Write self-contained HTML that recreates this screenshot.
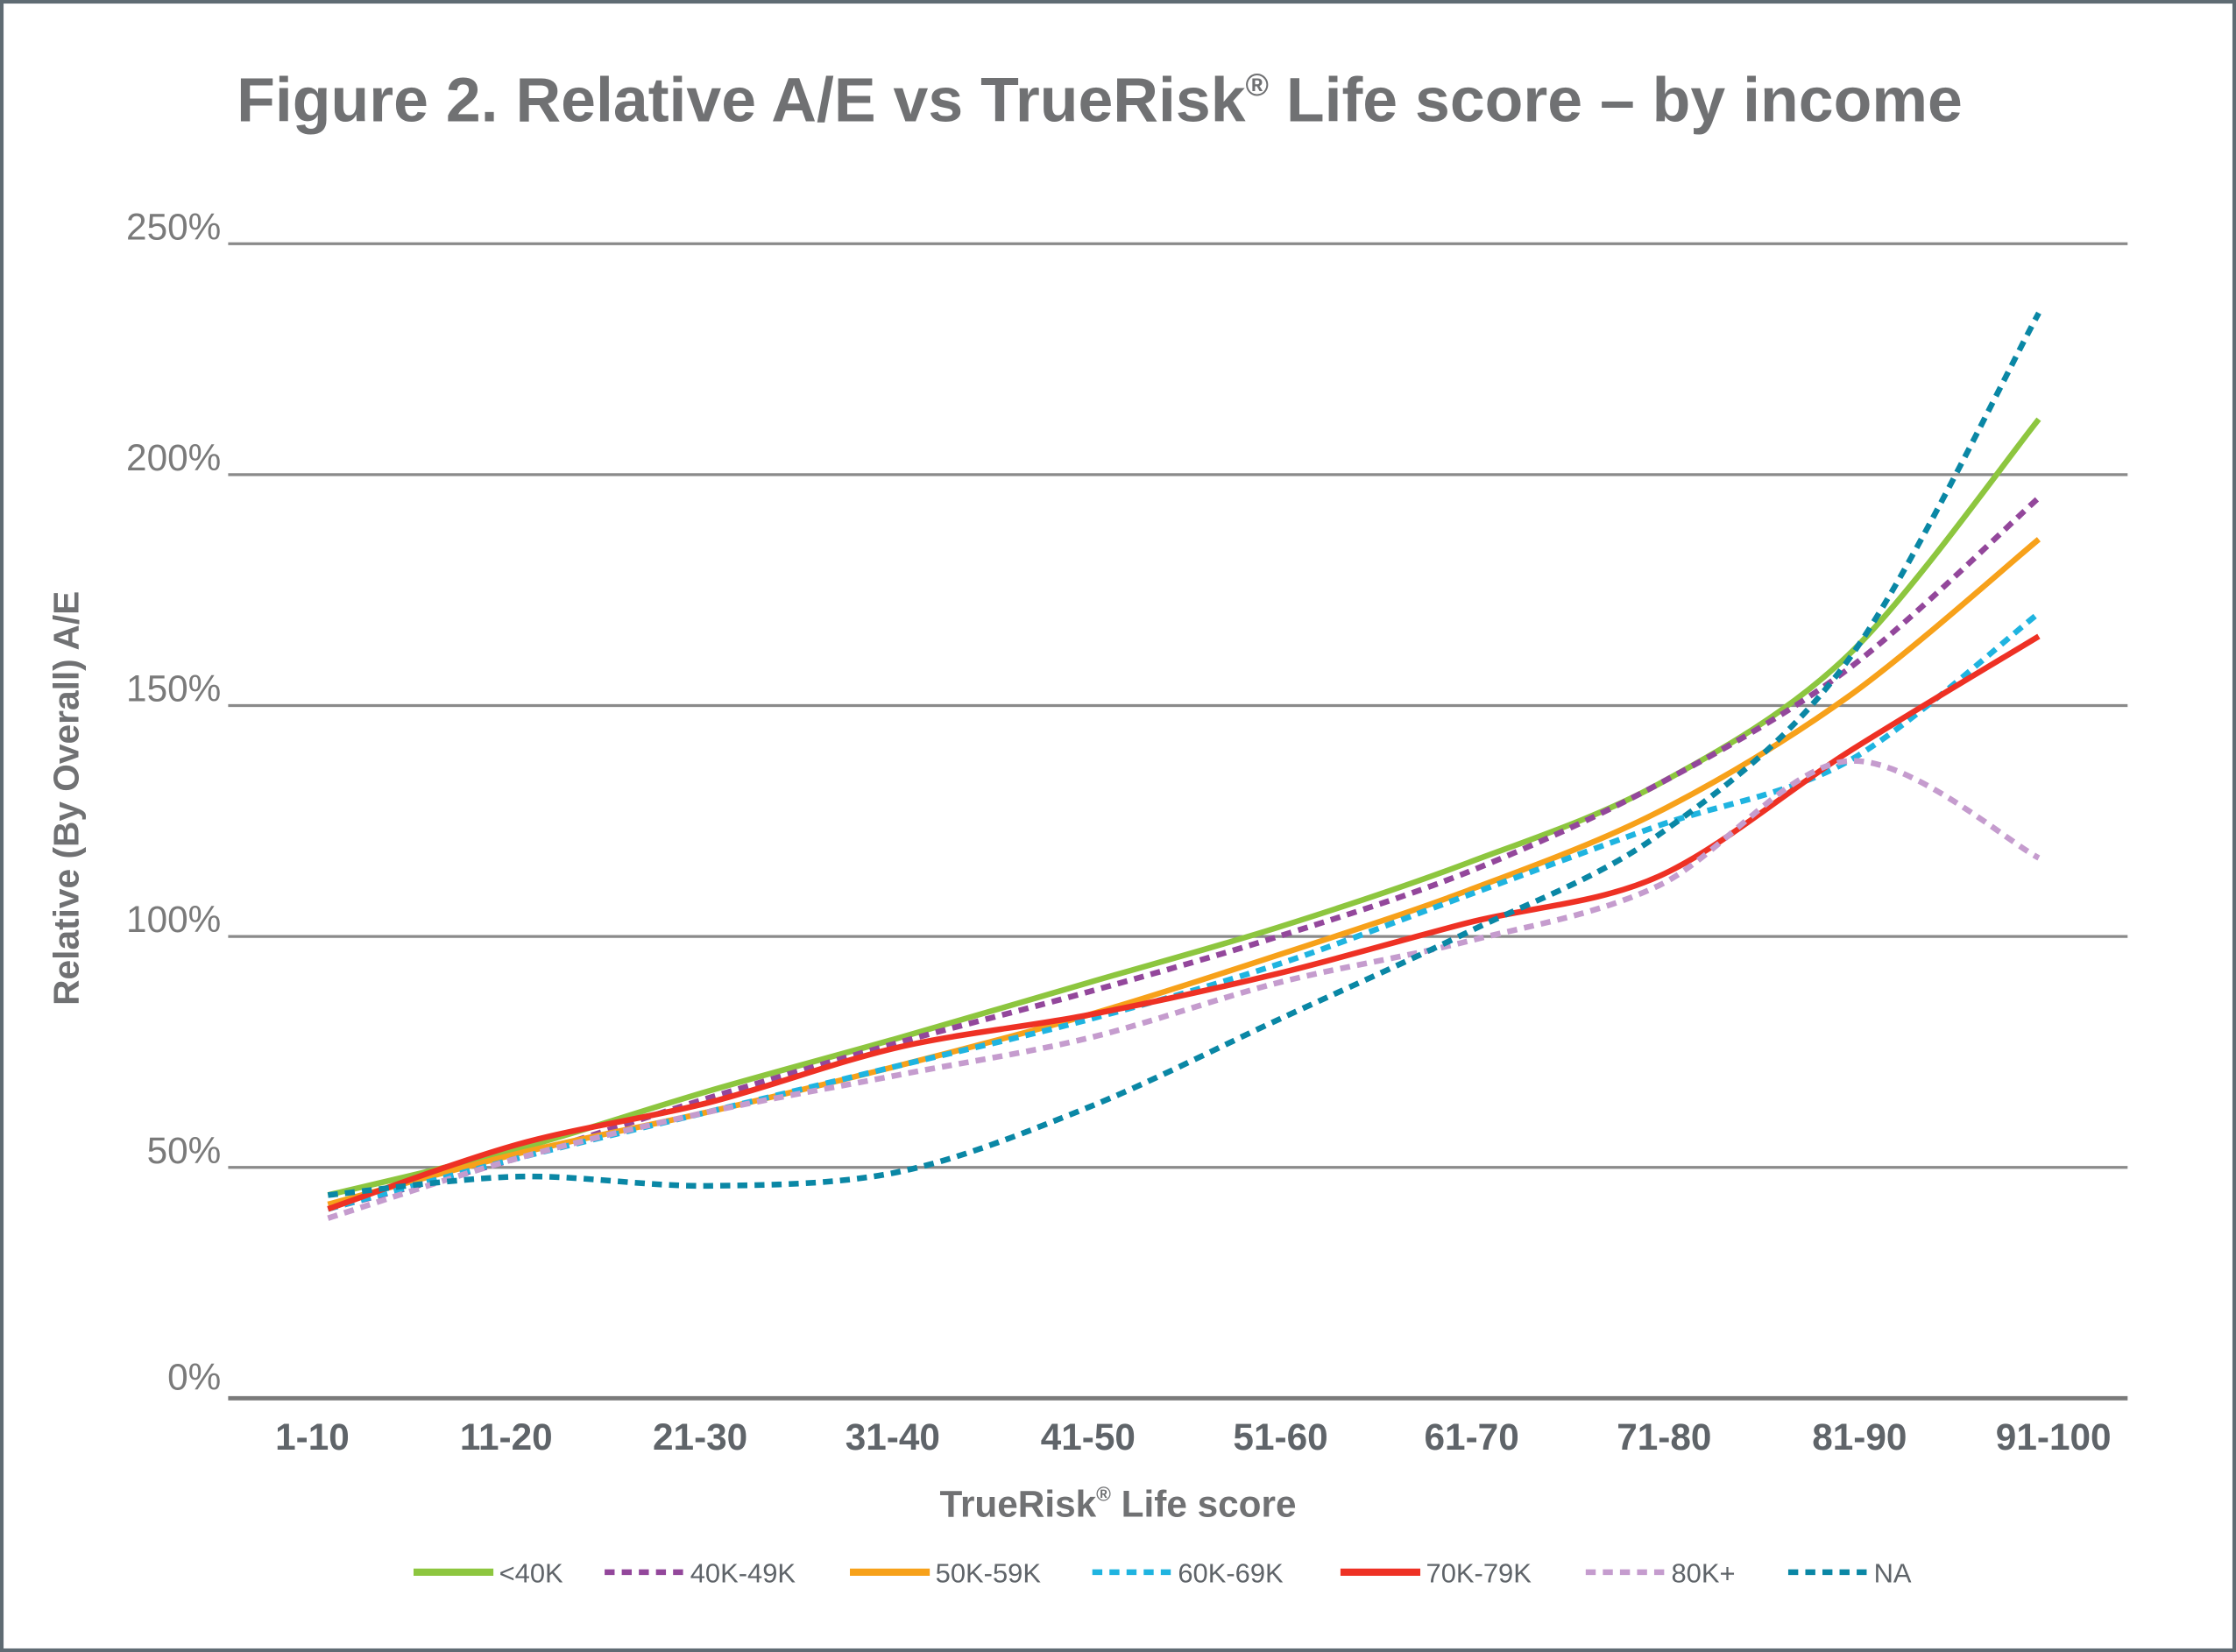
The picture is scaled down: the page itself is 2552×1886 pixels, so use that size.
<!DOCTYPE html>
<html><head><meta charset="utf-8"><style>
html,body{margin:0;padding:0;background:#fff}
svg{display:block}
text{font-family:"Liberation Sans",sans-serif}
</style></head><body>
<svg id="s" width="2552" height="1886" viewBox="0 0 1568 1159" preserveAspectRatio="none" xmlns="http://www.w3.org/2000/svg">
<rect x="1" y="1" width="1566" height="1157" fill="#fff" stroke="#5f6b73" stroke-width="3"/>
<text x="166" y="85" font-size="44" font-weight="bold" fill="#707173">Figure 2.  Relative A/E vs TrueRisk<tspan font-size="22" dy="-18">®</tspan><tspan dy="18"> Life score – by income</tspan></text>
<g stroke="#8a8a8a" stroke-width="2">
<line x1="160" x2="1492" y1="171" y2="171"/><line x1="160" x2="1492" y1="333" y2="333"/>
<line x1="160" x2="1492" y1="495" y2="495"/><line x1="160" x2="1492" y1="657" y2="657"/>
<line x1="160" x2="1492" y1="819" y2="819"/></g>
<line x1="160" x2="1492" y1="981" y2="981" stroke="#7a7a7a" stroke-width="3"/>
<g font-size="26" fill="#7a7a7a" text-anchor="end">
<text x="155" y="168">250%</text><text x="155" y="330">200%</text><text x="155" y="492">150%</text>
<text x="155" y="654">100%</text><text x="155" y="816">50%</text><text x="155" y="975">0%</text></g>
<g font-size="26" font-weight="bold" fill="#5f6469" text-anchor="middle">
<text x="219" y="1017">1-10</text><text x="355" y="1017">11-20</text><text x="491" y="1017">21-30</text>
<text x="626" y="1017">31-40</text><text x="763" y="1017">41-50</text><text x="898" y="1017">51-60</text>
<text x="1032" y="1017">61-70</text><text x="1167" y="1017">71-80</text><text x="1304" y="1017">81-90</text>
<text x="1440" y="1017">91-100</text></g>
<text x="784" y="1064" text-anchor="middle" font-size="26" font-weight="bold" fill="#707173">TrueRisk<tspan font-size="14" dy="-11">®</tspan><tspan dy="11"> Life score</tspan></text>
<text transform="translate(55,560) rotate(-90)" text-anchor="middle" font-size="25" font-weight="bold" fill="#707173">Relative (By Overall) A/E</text>
<g id="series"></g>
<g id="legend" font-size="19" fill="#5f6469"></g>
</svg>
<script>
var S=[
["<40K","#8dc63f",0,[44,54,66.5,78,90,102,116,133,161,212]],
["40K-49K","#93479b",1,[41,52,65,77,88,100,114,133,158,195]],
["50K-59K","#f7a11a",0,[42,53,62,72,83,96,110,127,152,186]],
["60K-69K","#1fb4e0",1,[41,52,62,72,82,94,109,124,138,170]],
["70K-79K","#ee3124",0,[41,55,64,76,83,92,103,113,140,165]],
["80K+","#c59cce",1,[39,52,62,70,78,90,99,111,138,117]],
["NA","#0a87a5",1,[44,48,46,49,63,82,101,122,160,235]]];
var ns="http://www.w3.org/2000/svg",g=document.getElementById("series"),L=document.getElementById("legend");
function X(i){return 230+133.3*i}function Y(v){return 981-v*3.24}
S.forEach(function(s){var p=s[3].map(function(v,i){return[X(i),Y(v)]});
var d="M"+p[0][0]+","+p[0][1];
for(var i=0;i<p.length-1;i++){var a=p[Math.max(i-1,0)],b=p[i],c=p[i+1],e=p[Math.min(i+2,p.length-1)],t=0.16;
d+=" C"+(b[0]+(c[0]-a[0])*t)+","+(b[1]+(c[1]-a[1])*t)+" "+(c[0]-(e[0]-b[0])*t)+","+(c[1]-(e[1]-b[1])*t)+" "+c[0]+","+c[1];}
var el=document.createElementNS(ns,"path");el.setAttribute("d",d);el.setAttribute("fill","none");el.setAttribute("stroke",s[1]);
el.setAttribute("stroke-width","4");if(s[2])el.setAttribute("stroke-dasharray","7 5");g.appendChild(el);});
var lx=[290,424,596,766,940,1112,1254];
S.forEach(function(s,i){var l=document.createElementNS(ns,"line");l.setAttribute("x1",lx[i]);l.setAttribute("x2",lx[i]+56);
l.setAttribute("y1",1103);l.setAttribute("y2",1103);l.setAttribute("stroke",s[1]);l.setAttribute("stroke-width",s[2]?4:5);
if(s[2])l.setAttribute("stroke-dasharray","7 5");L.appendChild(l);
var t=document.createElementNS(ns,"text");t.setAttribute("x",lx[i]+60);t.setAttribute("y",1110);t.textContent=s[0];L.appendChild(t);});
</script>
</body></html>
